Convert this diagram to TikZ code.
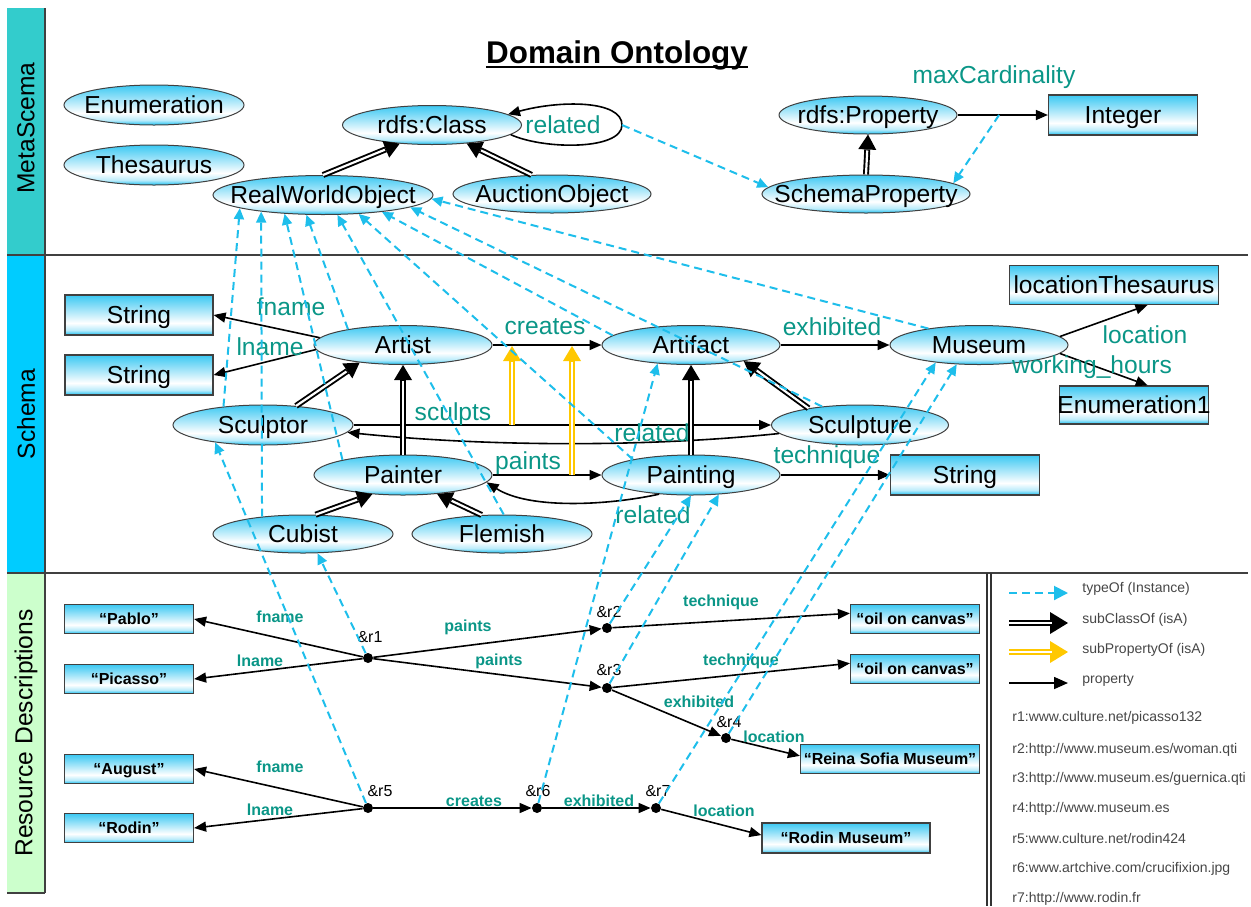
\documentclass[tikz,border=0pt]{standalone}
\usepackage{fontspec}
\setmainfont{Liberation Sans}
\usetikzlibrary{arrows.meta,shapes.geometric}

\definecolor{skyc}{RGB}{25,190,240}
\definecolor{labelteal}{RGB}{10,150,135}
\definecolor{typecyan}{RGB}{30,190,235}
\definecolor{subyellow}{RGB}{255,200,0}
\definecolor{metabar}{RGB}{51,204,204}
\definecolor{schemabar}{RGB}{0,204,255}
\definecolor{resbar}{RGB}{204,255,204}
\definecolor{legendgray}{RGB}{70,70,70}

% cyan-to-white fill used by every class and literal
\pgfdeclareverticalshading{skyfade}{100bp}{color(0bp)=(skyc); color(25bp)=(skyc); color(31bp)=(skyc!30!white); color(40bp)=(white); color(75bp)=(skyc!85!white); color(100bp)=(skyc!85!white)}

% text that does not widen its shape, with capitals centred vertically
\newcommand{\ctrtext}[1]{\makebox[0pt]{\rule[-0.14em]{0pt}{1em}#1}}

\begin{document}
\begin{tikzpicture}[x=0.5pt,y=-0.5pt,
  cls/.style={ellipse, draw=black!75, line width=0.5pt, shading=skyfade, inner sep=0pt,
    minimum width=89pt, minimum height=19.5pt, font=\fontsize{12.3}{14}\selectfont},
  box/.style={rectangle, draw=black!75, line width=0.6pt, shading=skyfade, inner sep=0pt,
    minimum width=74pt, minimum height=20pt, font=\fontsize{12.3}{14}\selectfont},
  rbox/.style={box, minimum width=64.5pt, minimum height=14.5pt, font=\bfseries\fontsize{8}{9.5}\selectfont},
  dot/.style={circle, fill=black, inner sep=0pt, minimum size=5pt},
  rtag/.style={inner sep=0pt, font=\fontsize{8}{9.5}\selectfont},
  lbl/.style={inner sep=0pt, text=labelteal, font=\fontsize{12.3}{14}\selectfont},
  rlbl/.style={inner sep=0pt, text=labelteal, font=\bfseries\fontsize{8}{9.5}\selectfont},
  legtxt/.style={inner sep=0pt, anchor=west, text=legendgray, font=\fontsize{7}{8.5}\selectfont},
  barlbl/.style={rotate=90, inner sep=0pt, font=\fontsize{12.3}{14}\selectfont},
  sepline/.style={draw=black!75, line width=0.6pt},
  prop/.style={draw=black, line width=0.8pt, -{Triangle[length=6pt,width=5pt]}},
  typeof/.style={draw=typecyan, line width=1pt, dash pattern=on 4pt off 2.5pt,
    -{Triangle[length=5.5pt,width=5pt]}},
  isa/.style={draw=black, line width=3pt, -{Triangle[length=7.5pt,width=9pt,line width=0pt]},
    postaction={draw=white, line width=1.1pt, -, shorten >=8pt}},
  subp/.style={isa, line width=3.4pt, draw=subyellow, postaction={draw=white, line width=1.4pt, -, shorten >=8pt}}
]
\useasboundingbox (0,0) rectangle (1251,906);

% section bars and rules
\fill[metabar] (7,8) rectangle (45,255);
\fill[schemabar] (7,255) rectangle (45,573);
\fill[resbar] (7,573) rectangle (45,893);
\draw[sepline] (45,8) -- (45,893);
\draw[sepline] (7,893) -- (45,893);
\draw[sepline] (7,255) -- (1248,255);
\draw[sepline] (7,573) -- (1248,573);
\draw[draw=black!80, line width=0.9pt] (987,573) -- (987,906);
\draw[draw=black!80, line width=0.9pt] (991,573) -- (991,906);

\node[barlbl] (metalbl) at (26,128) {MetaScema};
\node[barlbl] (schemalbl) at (26,414) {Schema};
\node[barlbl] (reslbl) at (26,733) {Resource Descriptions};

\node[font=\bfseries\fontsize{15.7}{18}\selectfont, inner sep=0pt, anchor=base] (title) at (617,63) {Domain Ontology};
\draw[line width=0.9pt] ([yshift=-1.8pt]title.base west) -- ([yshift=-1.8pt]title.base east);

% ---------- meta schema ----------
\node[cls, minimum width=90pt, minimum height=20pt] (enum) at (154,105) {\ctrtext{Enumeration}};
\node[cls, minimum width=90pt, minimum height=20pt] (thes) at (154,165) {\ctrtext{Thesaurus}};
\node[cls, minimum width=89.5pt] (rdfscls) at (432,125) {\ctrtext{rdfs:Class}};
\node[cls, minimum width=110pt] (rwo) at (323,195) {\ctrtext{RealWorldObject}};
\node[cls, minimum width=99pt, minimum height=19pt] (auction) at (552,194) {\ctrtext{AuctionObject}};
\node[cls, minimum width=89pt, minimum height=19pt] (rprop) at (868,115) {\ctrtext{rdfs:Property}};
\node[cls, minimum width=104pt, minimum height=19pt] (sprop) at (866,194) {\ctrtext{SchemaProperty}};
\node[box, minimum width=74.5pt] (integer) at (1123,115) {\ctrtext{Integer}};

\coordinate (relR) at (622,125);
\draw[prop] (rdfscls.353) .. controls (545,150) and (622,150) .. (relR)
  .. controls (622,100) and (560,100) .. (rdfscls.8);
\node[lbl] (rellbl) at (563,125) {related};
\draw[prop] (rprop.east) -- coordinate[pos=0.46] (mc) (integer.west);
\node[lbl] (maxlbl) at (994,77) {maxCardinality};

\draw[isa] (rwo.north) -- (rdfscls.210);
\draw[isa] (auction.137) -- (rdfscls.332);
\draw[isa] (sprop.north) -- (rprop.south);

% ---------- schema ----------
\node[box] (str1) at (139,315) {\ctrtext{String}};
\node[box] (str2) at (139,375) {\ctrtext{String}};
\node[cls] (artist) at (403,345) {\ctrtext{Artist}};
\node[cls] (artifact) at (691,345) {\ctrtext{Artifact}};
\node[cls] (museum) at (979,345) {\ctrtext{Museum}};
\node[box, minimum width=104.5pt, minimum height=19.5pt] (locth) at (1114,285) {\ctrtext{locationThesaurus}};
\node[box, minimum width=74.5pt, minimum height=19pt] (enum1) at (1134,405) {\ctrtext{Enumeration1}};
\node[cls, minimum width=90pt, minimum height=20pt] (sculptor) at (263,425) {\ctrtext{Sculptor}};
\node[cls, minimum width=88.5pt, minimum height=20pt] (sculpture) at (860,425) {\ctrtext{Sculpture}};
\node[cls, minimum height=20pt] (painter) at (403,475) {\ctrtext{Painter}};
\node[cls, minimum height=20pt] (painting) at (691,475) {\ctrtext{Painting}};
\node[box, minimum width=74.5pt] (str3) at (965,475) {\ctrtext{String}};
\node[cls, minimum width=90pt, minimum height=19pt] (cubist) at (303,534) {\ctrtext{Cubist}};
\node[cls, minimum width=90pt, minimum height=19pt] (flemish) at (502,534) {\ctrtext{Flemish}};

\draw[prop] (artist.175) -- (str1.east);
\draw[prop] (artist.183) -- (str2.east);
\draw[prop] (artist) -- (artifact);
\draw[prop] (artifact) -- (museum);
\draw[prop] (museum.6) -- (locth.329);
\draw[prop] (museum.354) -- (enum1.55);
\draw[prop] (sculptor) -- (sculpture);
\draw[prop] (sculpture.186) .. controls (640,448) and (480,446) .. (sculptor.355);
\draw[prop] (painter) -- (painting);
\draw[prop] (painting.211) .. controls (610,505) and (530,510) .. (painter.355);
\draw[prop] (painting) -- (str3);

\draw[isa] (sculptor.30) -- (artist.202);
\draw[isa] (painter.north) -- (artist.south);
\draw[isa] (cubist.57) -- (painter.212);
\draw[isa] (flemish.137) -- (painter.331);
\draw[isa] (painting.north) -- (artifact.south);
\draw[isa] (sculpture.162) -- (artifact.343);

% sculpts and paints are sub-properties of creates
\coordinate (spA) at (512,425);
\coordinate (spAt) at (512,346);
\coordinate (spB) at (572,475);
\coordinate (spBt) at (572,346);
\draw[subp] (spA) -- (spAt);
\draw[subp] (spB) -- (spBt);

\node[lbl] (sfname) at (291,307) {fname};
\node[lbl] (slname) at (270,347) {lname};
\node[lbl] (screates) at (545,327) {creates};
\node[lbl] (sexhib) at (832,327) {exhibited};
\node[lbl] (sloc) at (1145,335) {location};
\node[lbl] (shours) at (1092,367) {working\_hours};
\node[lbl] (ssculpts) at (453,414) {sculpts};
\node[lbl] (srel1) at (652,433) {related};
\node[lbl] (spaints) at (528,463) {paints};
\node[lbl] (srel2) at (653,515) {related};
\node[lbl] (stech) at (827,457) {technique};

% ---------- resource descriptions ----------
\node[rbox] (pablo) at (129,619) {\ctrtext{“Pablo”}};
\node[rbox] (picasso) at (129,679) {\ctrtext{“Picasso”}};
\node[rbox] (august) at (129,769) {\ctrtext{“August”}};
\node[rbox] (rodin) at (129,828) {\ctrtext{“Rodin”}};
\node[rbox] (oil1) at (915,619) {\ctrtext{“oil on canvas”}};
\node[rbox] (oil2) at (915,669) {\ctrtext{“oil on canvas”}};
\node[rbox, minimum width=89.5pt] (reina) at (890,759) {\ctrtext{“Reina Sofia Museum”}};
\node[rbox, minimum width=84pt, minimum height=15pt] (rmuseum) at (846,838) {\ctrtext{“Rodin Museum”}};

\node[dot] (r1) at (368,658) {};
\node[dot] (r2) at (607,628) {};
\node[dot] (r3) at (607,688) {};
\node[dot] (r4) at (726,738) {};
\node[dot] (r5) at (368,808) {};
\node[dot] (r6) at (537,808) {};
\node[dot] (r7) at (656,808) {};
\node[rtag] (r1t) at (370,637) {\&r1};
\node[rtag] (r2t) at (609,612) {\&r2};
\node[rtag] (r3t) at (609,670) {\&r3};
\node[rtag] (r4t) at (729,722) {\&r4};
\node[rtag] (r5t) at (380,791) {\&r5};
\node[rtag] (r6t) at (538,791) {\&r6};
\node[rtag] (r7t) at (658,791) {\&r7};

\draw[prop] (r1) -- (pablo.east);
\draw[prop] (r1) -- (picasso.east);
\draw[prop] (r1) -- (r2);
\draw[prop] (r1) -- (r3);
\draw[prop] (r2) -- (oil1.175);
\draw[prop] (r3) -- (oil2.175);
\draw[prop] (r3) -- (r4);
\draw[prop] (r4) -- (reina.178);
\draw[prop] (r5) -- (august.east);
\draw[prop] (r5) -- (rodin.east);
\draw[prop] (r5) -- (r6);
\draw[prop] (r6) -- (r7);
\draw[prop] (r7) -- (rmuseum.178);

\node[rlbl] (rfname1) at (280,617) {fname};
\node[rlbl] (rlname1) at (260,661) {lname};
\node[rlbl] (rpaints1) at (468,627) {paints};
\node[rlbl] (rpaints2) at (499,661) {paints};
\node[rlbl] (rtech1) at (721,602) {technique};
\node[rlbl] (rtech2) at (741,661) {technique};
\node[rlbl] (rexhib1) at (699,702) {exhibited};
\node[rlbl] (rloc1) at (774,737) {location};
\node[rlbl] (rfname2) at (280,767) {fname};
\node[rlbl] (rlname2) at (270,810) {lname};
\node[rlbl] (rcreates) at (474,801) {creates};
\node[rlbl] (rexhib2) at (599,801) {exhibited};
\node[rlbl] (rloc2) at (724,811) {location};

% ---------- typeOf links, drawn over everything ----------
\draw[typeof] (relR) -- (sprop.176);
\draw[typeof] (mc) -- (sprop.7);

\draw[typeof] (sculptor.155) -- (rwo.189);
\draw[typeof] (cubist.157) -- (rwo.195);
\draw[typeof] (painter.166) -- (rwo.206);
\draw[typeof] (artist.164) -- (rwo.230);
\draw[typeof] (flemish.85) -- (rwo.306);
\draw[typeof] (painting.165) -- (rwo.332);
\draw[typeof] (artifact.173) -- (rwo.344);
\draw[typeof] (sculpture.154) -- (rwo.352);
\draw[typeof] (museum.162) -- (rwo.358);

\draw[typeof] (r1) -- (cubist.307);
\draw[typeof] (r5) -- (sculptor.200);
\draw[typeof] (r2) -- (painting.270);
\draw[typeof] (r3) -- (painting.325);
\draw[typeof] (r6) -- (artifact.209);
\draw[typeof] (r7) -- (museum.202);
\draw[typeof] (r4) -- (museum.221);

% ---------- legend ----------
\coordinate (lg1a) at (1009,593); \coordinate (lg1b) at (1068,593);
\coordinate (lg2a) at (1009,623); \coordinate (lg2b) at (1068,623);
\coordinate (lg3a) at (1009,652); \coordinate (lg3b) at (1068,652);
\coordinate (lg4a) at (1009,683); \coordinate (lg4b) at (1068,683);
\draw[typeof, -{Triangle[length=7pt,width=7pt]}] (lg1a) -- (lg1b);
\draw[isa, line width=3.4pt, -{Triangle[length=9pt,width=11pt,line width=0pt]},
  postaction={draw=white, line width=1.1pt, -, shorten >=9.5pt}] (lg2a) -- (lg2b);
\draw[subp, line width=3.4pt, -{Triangle[length=9pt,width=11pt,line width=0pt]},
  postaction={draw=white, line width=1.1pt, -, shorten >=9.5pt}] (lg3a) -- (lg3b);
\draw[prop, -{Triangle[length=7pt,width=6pt]}] (lg4a) -- (lg4b);
\node[legtxt] (lgt1) at (1082,589) {typeOf (Instance)};
\node[legtxt] (lgt2) at (1082,620) {subClassOf (isA)};
\node[legtxt] (lgt3) at (1082,650) {subPropertyOf (isA)};
\node[legtxt] (lgt4) at (1082,680) {property};

\node[legtxt] (url1) at (1012,718) {r1:www.culture.net/picasso132};
\node[legtxt] (url2) at (1012,750) {r2:http://www.museum.es/woman.qti};
\node[legtxt] (url3) at (1012,779) {r3:http://www.museum.es/guernica.qti};
\node[legtxt] (url4) at (1012,809) {r4:http://www.museum.es};
\node[legtxt] (url5) at (1012,838) {r5:www.culture.net/rodin424};
\node[legtxt] (url6) at (1012,869) {r6:www.artchive.com/crucifixion.jpg};
\node[legtxt] (url7) at (1012,899) {r7:http://www.rodin.fr};
\end{tikzpicture}
\end{document}
